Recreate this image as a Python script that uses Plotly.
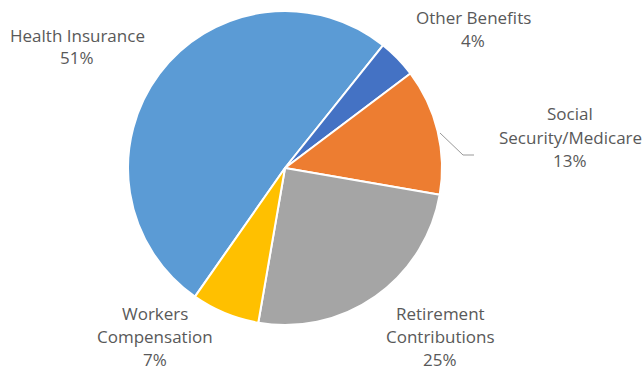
import plotly.graph_objects as go

# Benefit cost shares (percent), in clockwise drawing order
labels = ["Health Insurance", "Other Benefits", "Social\nSecurity/Medicare",
          "Retirement\nContributions", "Workers\nCompensation"]
values = [51, 4, 13, 25, 7]
colors = ["#5B9BD5", "#4472C4", "#ED7D31", "#A5A5A5", "#FFC000"]

# Label anchor (center of first line) in pixel space
label_pos = [(77, 35), (473, 18), (570, 114), (440, 313), (155, 313)]

W, H = 644, 370
cx, cy, r = 285, 168, 157

fig = go.Figure(go.Pie(
    labels=[l.replace("\n", " ") for l in labels],
    values=values,
    sort=False,
    direction="clockwise",
    rotation=215,
    marker=dict(colors=colors, line=dict(color="white", width=2)),
    textinfo="none",
    hoverinfo="label+percent",
    domain=dict(x=[(cx - r) / W, (cx + r) / W],
                y=[1 - (cy + r) / H, 1 - (cy - r) / H]),
    showlegend=False,
))

annotations = []
line_gap = 23
for lab, val, (px, py) in zip(labels, values, label_pos):
    lines = lab.split("\n") + [f"{val}%"]
    for i, t in enumerate(lines):
        annotations.append(dict(
            x=px / W, y=1 - (py + i * line_gap) / H, xref="paper", yref="paper",
            text=t, showarrow=False, xanchor="center", yanchor="middle",
            font=dict(family="Open Sans, sans-serif", size=17, color="#595959"),
        ))

# Leader line for the Social Security/Medicare label
fig.add_shape(type="path", xref="paper", yref="paper",
              path=f"M {440/W},{1-133/H} L {463/W},{1-155/H} L {474/W},{1-155/H}",
              line=dict(color="#999999", width=1))

fig.update_layout(
    width=W, height=H,
    margin=dict(l=0, r=0, t=0, b=0),
    paper_bgcolor="white", plot_bgcolor="white",
    annotations=annotations,
)

fig.write_html("out.html")
